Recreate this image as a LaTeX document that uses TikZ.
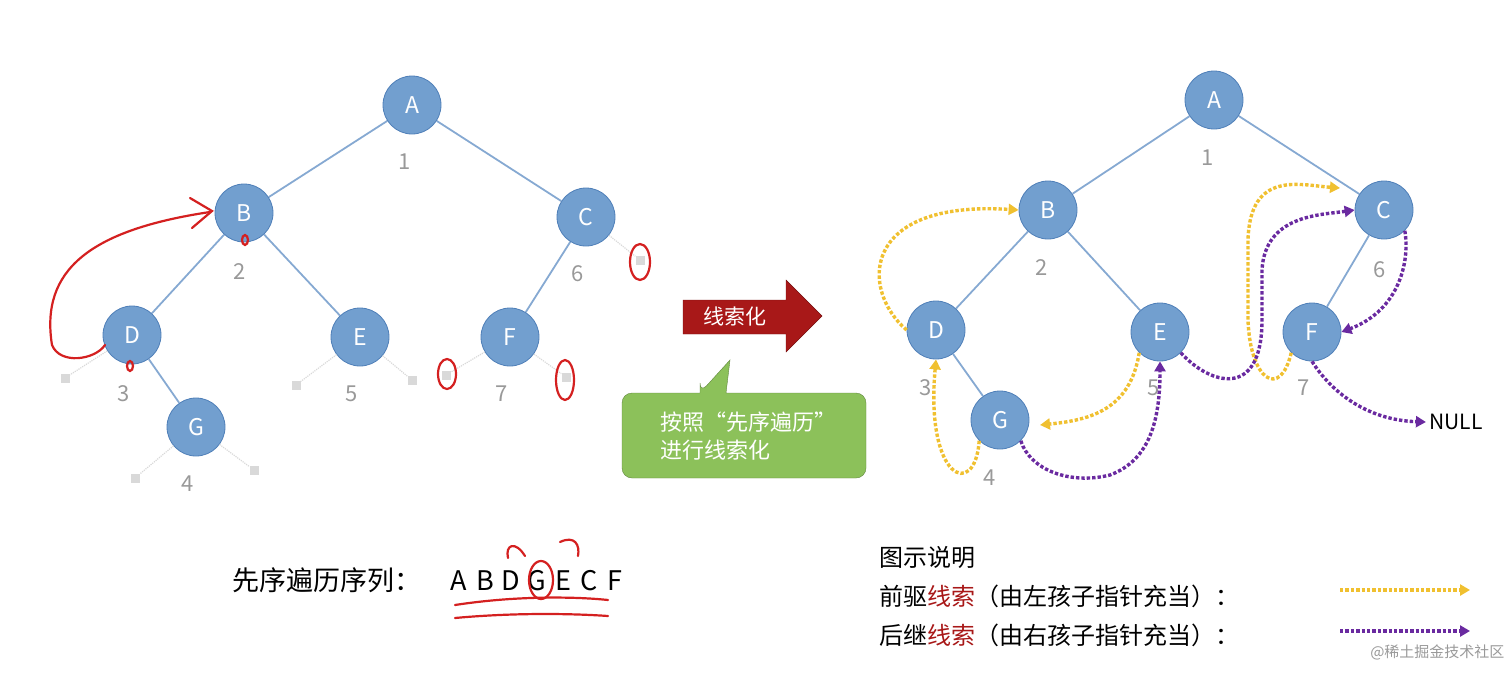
\documentclass[tikz,border=0pt]{standalone}
\usepackage{fontspec}
\setmainfont{Noto Sans CJK SC}
\usetikzlibrary{arrows.meta}
\definecolor{nfill}{HTML}{729FCF}
\definecolor{nline}{HTML}{4F7FB8}
\definecolor{eline}{HTML}{86A9D2}
\definecolor{yel}{HTML}{F0C030}
\definecolor{pur}{HTML}{6A2AA0}
\definecolor{rd}{HTML}{D42020}
\definecolor{grn}{HTML}{8CC15A}
\definecolor{drd}{HTML}{A81818}
\tikzset{
 tn/.style={circle,fill=nfill,draw=nline,line width=0.8pt,minimum size=58pt,inner sep=0pt,text=white,font=\fontsize{23}{23}\selectfont},
 te/.style={eline,line width=1.8pt},
 num/.style={text=gray!80,font=\fontsize{22}{22}\selectfont},
 nl/.style={fill=gray!30,minimum size=9pt,inner sep=0pt},
 nle/.style={gray!30,densely dotted,line width=1.2pt},
 yth/.style={yel,line width=3.4pt,dotted,-{Triangle[length=10pt,width=11pt,fill=yel]}},
 pth/.style={pur,line width=3.4pt,dotted,-{Triangle[length=10pt,width=11pt,fill=pur]}},
 ann/.style={rd,line width=2.2pt,line cap=round},
 lt/.style={anchor=west,font=\fontsize{24}{24}\selectfont},
}
\newcommand{\lbx}[1]{\makebox[26pt]{#1}}
\begin{document}
\begin{tikzpicture}[x=1pt,y=-1pt]
\useasboundingbox (0,0) rectangle (1512,680);
% ---- left tree
\node[tn] (A) at (412,105) {A};
\node[tn] (B) at (244,213) {B};
\node[tn] (C) at (586,217) {C};
\node[tn] (D) at (132,335) {D};
\node[tn] (E) at (360,337) {E};
\node[tn] (F) at (510,337) {F};
\node[tn] (G) at (196,427) {G};
\draw[te] (A) -- (B); \draw[te] (A) -- (C); \draw[te] (B) -- (D); \draw[te] (B) -- (E);
\draw[te] (C) -- (F); \draw[te] (D) -- (G);
\node[num] (n1) at (405,162) {1};
\node[num] (n2) at (240,272) {2};
\node[num] (n3) at (124,394) {3};
\node[num] (n4) at (188,484) {4};
\node[num] (n5) at (352,394) {5};
\node[num] (n6) at (578,274) {6};
\node[num] (n7) at (502,394) {7};
\node[nl] (cr) at (640,260) {}; \draw[nle] (C) -- (cr);
\node[nl] (dl) at (65,378) {}; \draw[nle] (D) -- (dl);
\node[nl] (el) at (296,385) {}; \draw[nle] (E) -- (el);
\node[nl] (er) at (412,380) {}; \draw[nle] (E) -- (er);
\node[nl] (fl) at (446,375) {}; \draw[nle] (F) -- (fl);
\node[nl] (fr) at (566,377) {}; \draw[nle] (F) -- (fr);
\node[nl] (gl) at (135,478) {}; \draw[nle] (G) -- (gl);
\node[nl] (gr) at (254,470) {}; \draw[nle] (G) -- (gr);
% red annotations
\draw[ann] (105,345) .. controls (95,360) and (60,365) .. (52,345) .. controls (40,270) and (90,230) .. (210,212);
\draw[ann] (190,198) -- (212,211) -- (192,228);
\draw[ann] (640,262) ellipse (10pt and 18pt);
\draw[ann] (447,374) ellipse (9pt and 15pt);
\draw[ann] (565,380) ellipse (9pt and 20pt);
\draw[ann] (245,240) ellipse (3pt and 5pt);
\draw[ann] (130,366) ellipse (3pt and 5pt);
% ---- middle
\draw[fill=drd,draw=drd!70!black] (683,300) -- (786,300) -- (786,280) -- (822,316) -- (786,352) -- (786,334) -- (683,334) -- cycle;
\node[text=white,font=\fontsize{21}{21}\selectfont] (arr) at (735,316) {线索化};
\draw[fill=grn,draw=grn!70!black,rounded corners=10pt] (700,393) -- (700,393) [sharp corners] -- (730,360) -- (726,393) [rounded corners=10pt] -- (866,393) -- (866,478) -- (622,478) -- (622,393) -- (700,393);
\node[align=left,text=white,font=\fontsize{22}{28}\selectfont] (call) at (748,436) {按照“先序遍历”\\进行线索化};
% ---- right tree
\node[tn] (A2) at (1214,100) {A};
\node[tn] (B2) at (1048,210) {B};
\node[tn] (C2) at (1384,210) {C};
\node[tn] (D2) at (936,330) {D};
\node[tn] (E2) at (1160,332) {E};
\node[tn] (F2) at (1312,332) {F};
\node[tn] (G2) at (1000,420) {G};
\draw[te] (A2) -- (B2); \draw[te] (A2) -- (C2); \draw[te] (B2) -- (D2); \draw[te] (B2) -- (E2);
\draw[te] (C2) -- (F2); \draw[te] (D2) -- (G2);
\node[num] (m1) at (1208,158) {1};
\node[num] (m2) at (1042,268) {2};
\node[num] (m3) at (926,388) {3};
\node[num] (m4) at (990,478) {4};
\node[num] (m5) at (1154,388) {5};
\node[num] (m6) at (1380,270) {6};
\node[num] (m7) at (1304,388) {7};
\node (null) at (1456,422) {\fontsize{21}{21}\selectfont NULL};
\draw[yth] (D2.west) .. controls (860,290) and (860,200) .. (B2.west);
\draw[yth] (G2.south west) .. controls (975,500) and (925,480) .. (D2.south);
\draw[yth] (E2.south west) .. controls (1130,410) and (1090,420) .. (1040,425);
\draw[yth] (F2.south west) .. controls (1280,400) and (1250,380) .. (1248,320) -- (1248,240) .. controls (1250,170) and (1300,185) .. (1340,188);
\draw[pth] (E2.south east) .. controls (1210,385) and (1262,400) .. (1262,320) -- (1262,270) .. controls (1265,215) and (1320,215) .. (C2.west);
\draw[pth] (C2.south east) .. controls (1410,260) and (1400,310) .. (F2.east);
\draw[pth] (G2.south east) .. controls (1030,470) and (1070,485) .. (1110,475) .. controls (1150,460) and (1160,420) .. (E2.south);
\draw[pth] (F2.south) .. controls (1330,390) and (1365,420) .. (null.west);
% ---- bottom text
\node[anchor=west,font=\fontsize{27}{27}\selectfont,inner sep=0pt] (seq) at (232,580) {先序遍历序列：\hspace{25pt}\lbx{A}\lbx{B}\lbx{D}\lbx{G}\lbx{E}\lbx{C}\lbx{F}};
\draw[ann] (541,580) ellipse (12pt and 19pt);
\draw[ann] (455,605) .. controls (520,595) and (580,597) .. (608,600);
\draw[ann] (455,618) .. controls (520,612) and (580,614) .. (608,616);
\draw[ann] (525,556) .. controls (515,540) and (505,545) .. (508,558);
\draw[ann] (560,542) .. controls (575,535) and (580,545) .. (578,556);
\node[lt] (leg0) at (876,557) {图示说明};
\node[lt] (leg1) at (876,596) {前驱\textcolor{drd}{线索}（由左孩子指针充当）：};
\node[lt] (leg2) at (876,635) {后继\textcolor{drd}{线索}（由右孩子指针充当）：};
\coordinate (y1) at (1340,590); \coordinate (y2) at (1470,590);
\coordinate (p1) at (1340,631); \coordinate (p2) at (1470,631);
\draw[yth] (y1) -- (y2);
\draw[pth] (p1) -- (p2);
\node[anchor=east,text=gray!80,font=\fontsize{15}{15}\selectfont] (wm) at (1508,652) {@稀土掘金技术社区};
\end{tikzpicture}
\end{document}
